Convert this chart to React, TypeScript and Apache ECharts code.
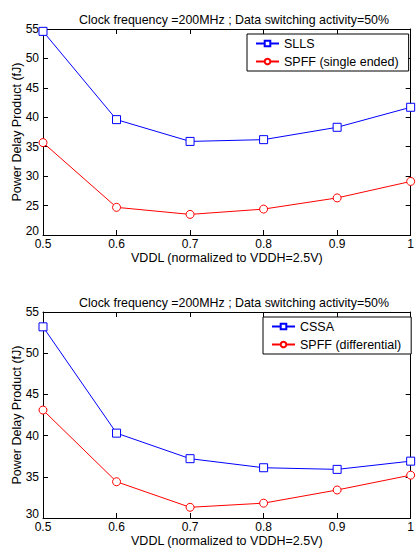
import React, { useEffect, useRef } from "react";
import * as echarts from "echarts";

const xValues = [0.5, 0.6, 0.7, 0.8, 0.9, 1.0];
const sllsValues = [54.6, 39.6, 35.9, 36.2, 38.3, 41.7];
const spffSingleValues = [35.7, 24.7, 23.5, 24.4, 26.3, 29.1];
const cssaValues = [53.2, 40.3, 37.2, 36.1, 35.9, 36.9];
const spffDiffValues = [43.1, 34.4, 31.3, 31.8, 33.4, 35.2];

const titleText = "Clock frequency =200MHz ; Data switching activity=50%";
const xName = "VDDL (normalized to VDDH=2.5V)";
const yName = "Power Delay Product (fJ)";

const FONT = "'Liberation Sans', Arial, sans-serif";

const pairs = (vals: number[]) => xValues.map((x, i) => [x, vals[i]]);

export default function App() {
  const ref = useRef<HTMLDivElement>(null);
  useEffect(() => {
    document.body.style.margin = "0";
    const chart = echarts.init(ref.current!, null, { renderer: "svg" });
    const gridW = 372;
    const gridH = 206;
    const grids = [
      { left: 43, top: 29, width: gridW, height: gridH },
      { left: 43, top: 312, width: gridW, height: gridH },
    ];
    const yRanges = [
      { min: 20, max: 55 },
      { min: 30, max: 55 },
    ];
    const axisLine = { show: true, lineStyle: { color: "#000", width: 1 } };
    const tick = { show: true, inside: true, length: 5, lineStyle: { color: "#000" } };
    const xAxes: any[] = [];
    const yAxes: any[] = [];
    [0, 1].forEach((g) => {
      xAxes.push({
        type: "value",
        gridIndex: g,
        min: 0.5,
        max: 1,
        interval: 0.1,
        position: "bottom",
        axisLine,
        axisTick: tick,
        splitLine: { show: false },
        axisLabel: {
          color: "#000",
          fontFamily: FONT,
          fontSize: 12,
          lineHeight: 10,
          margin: 4,
          formatter: (v: number) => String(Math.round(v * 10) / 10),
        },
        name: xName,
        nameLocation: "middle",
        nameGap: 16,
        nameTextStyle: { color: "#000", fontFamily: FONT, fontSize: 12.5 },
      });
      xAxes.push({
        type: "value",
        gridIndex: g,
        min: 0.5,
        max: 1,
        interval: 0.1,
        position: "top",
        axisLine,
        axisTick: tick,
        splitLine: { show: false },
        axisLabel: { show: false },
      });
      yAxes.push({
        type: "value",
        gridIndex: g,
        min: yRanges[g].min,
        max: yRanges[g].max,
        interval: 5,
        position: "left",
        axisLine,
        axisTick: tick,
        splitLine: { show: false },
        axisLabel: {
          color: "#000",
          fontFamily: FONT,
          fontSize: 12,
          lineHeight: 9,
          margin: 4,
          verticalAlignMinLabel: "bottom",
        },
      });
      yAxes.push({
        type: "value",
        gridIndex: g,
        min: yRanges[g].min,
        max: yRanges[g].max,
        interval: 5,
        position: "right",
        axisLine,
        axisTick: tick,
        splitLine: { show: false },
        axisLabel: { show: false },
      });
    });

    const mkSeries = (name: string, vals: number[], color: string, symbol: string, g: number) => ({
      type: "line",
      name,
      xAxisIndex: g * 2,
      yAxisIndex: g * 2,
      data: pairs(vals),
      symbol,
      symbolSize: 8,
      color,
      lineStyle: { color, width: 1 },
      itemStyle: { color: "#fff", borderColor: color, borderWidth: 1 },
      emphasis: { disabled: true },
    });

    const legendBase = {
      orient: "vertical",
      itemWidth: 23,
      itemHeight: 7,
      itemGap: 5,
      backgroundColor: "#fff",
      borderColor: "#000",
      borderWidth: 1,
      borderRadius: 0,
      padding: [3, 10, 3, 8],
      textStyle: { color: "#000", fontFamily: FONT, fontSize: 12.5 },
      selectedMode: false,
    };

    const yNameText = (y: number) => ({
      type: "text",
      x: 17,
      y,
      rotation: Math.PI / 2,
      style: {
        text: yName,
        fill: "#000",
        font: `12.5px ${FONT}`,
        textAlign: "center",
        textVerticalAlign: "middle",
      },
    });

    chart.setOption({
      animation: false,
      backgroundColor: "#fff",
      title: [
        {
          text: titleText,
          left: 229,
          top: 9,
          textAlign: "center",
          textStyle: { color: "#000", fontFamily: FONT, fontSize: 12.4, fontWeight: "normal" },
        },
        {
          text: titleText,
          left: 229,
          top: 292,
          textAlign: "center",
          textStyle: { color: "#000", fontFamily: FONT, fontSize: 12.4, fontWeight: "normal" },
        },
      ],
      grid: grids,
      xAxis: xAxes,
      yAxis: yAxes,
      legend: [
        { ...legendBase, left: 247, top: 34, data: ["SLLS", "SPFF (single ended)"] },
        { ...legendBase, left: 263, top: 317, data: ["CSSA", "SPFF (differential)"] },
      ],
      graphic: [yNameText(132), yNameText(415)],
      series: [
        mkSeries("SLLS", sllsValues, "#0000ff", "rect", 0),
        mkSeries("SPFF (single ended)", spffSingleValues, "#ff0000", "circle", 0),
        mkSeries("CSSA", cssaValues, "#0000ff", "rect", 1),
        mkSeries("SPFF (differential)", spffDiffValues, "#ff0000", "circle", 1),
      ],
    });
    return () => chart.dispose();
  }, []);
  return (
    <div
      ref={ref}
      style={{ position: "absolute", left: 0, top: 0, width: 417, height: 548 }}
    />
  );
}
